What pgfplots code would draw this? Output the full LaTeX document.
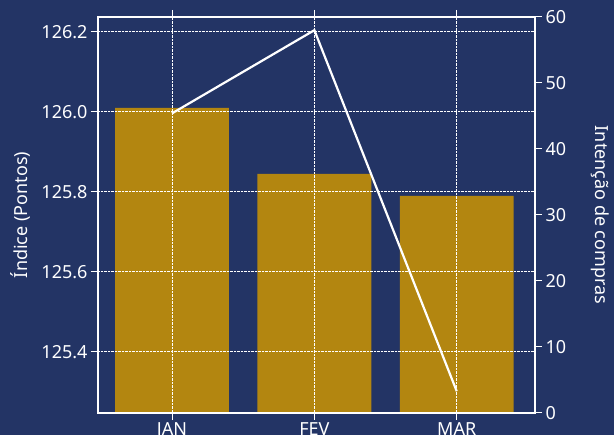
\documentclass[border=0pt]{standalone}
\usepackage{fontspec}
\setmainfont{Noto Sans}
\usepackage{pgfplots}
\pgfplotsset{compat=1.18}
\usetikzlibrary{backgrounds,calc}
\definecolor{bg}{RGB}{35,52,101}
\definecolor{gold}{RGB}{179,134,16}
\begin{document}
\begin{tikzpicture}[font=\fontsize{18}{21}\selectfont]
\begin{axis}[scale only axis, width=437pt, height=396pt,
 xmin=-0.52, xmax=2.55, ymin=125.2475, ymax=126.2375,
 xtick={0,1,2}, xticklabels={JAN,FEV,MAR},
 ytick={125.4,125.6,125.8,126.0,126.2},
 yticklabel style={/pgf/number format/.cd, fixed, fixed zerofill, precision=1},
 /pgf/number format/assume math mode=true,
 axis line style={white, line width=2pt},
 tick style={white, line width=1pt},
 tick align=outside, major tick length=7pt,
 xtick pos=both, ytick pos=left,
 ticklabel style={white},
 xticklabel style={yshift=1pt},
 grid=major, grid style={white, densely dotted, line width=1pt},
 axis on top,
 ylabel={Índice (Pontos)},
 ylabel style={white, at={(axis description cs:-0.178,0.5)}, anchor=center},
]
\addplot[ybar, bar width=0.8, fill=gold, draw=none] coordinates {(0,126.01) (1,125.845) (2,125.79)};
\coordinate (sw) at (rel axis cs:0,0);
\coordinate (ne) at (rel axis cs:1,1);
\end{axis}
\begin{axis}[scale only axis, width=437pt, height=396pt,
 xmin=-0.52, xmax=2.55, ymin=0, ymax=60,
 axis x line=none, axis y line*=right,
 ytick={0,10,20,30,40,50,60},
 /pgf/number format/assume math mode=true,
 axis line style={white, line width=2pt},
 tick style={white, line width=1pt},
 tick align=outside, major tick length=7pt,
 ticklabel style={white},
 ylabel={Intenção de compras},
 ylabel style={white, at={(axis description cs:1.15,0.5)}, anchor=center, rotate=180},
]
\addplot[white, line width=2.2pt, mark=none] coordinates {(0,45.4) (1,58) (2,3.3)};
\end{axis}
\begin{scope}[on background layer]
\fill[bg] ($(sw)+(-98pt,-22pt)$) rectangle ($(ne)+(79pt,17pt)$);
\end{scope}
\pgfresetboundingbox
\useasboundingbox ($(sw)+(-98pt,-22pt)$) rectangle ($(ne)+(79pt,17pt)$);
\end{tikzpicture}
\end{document}
